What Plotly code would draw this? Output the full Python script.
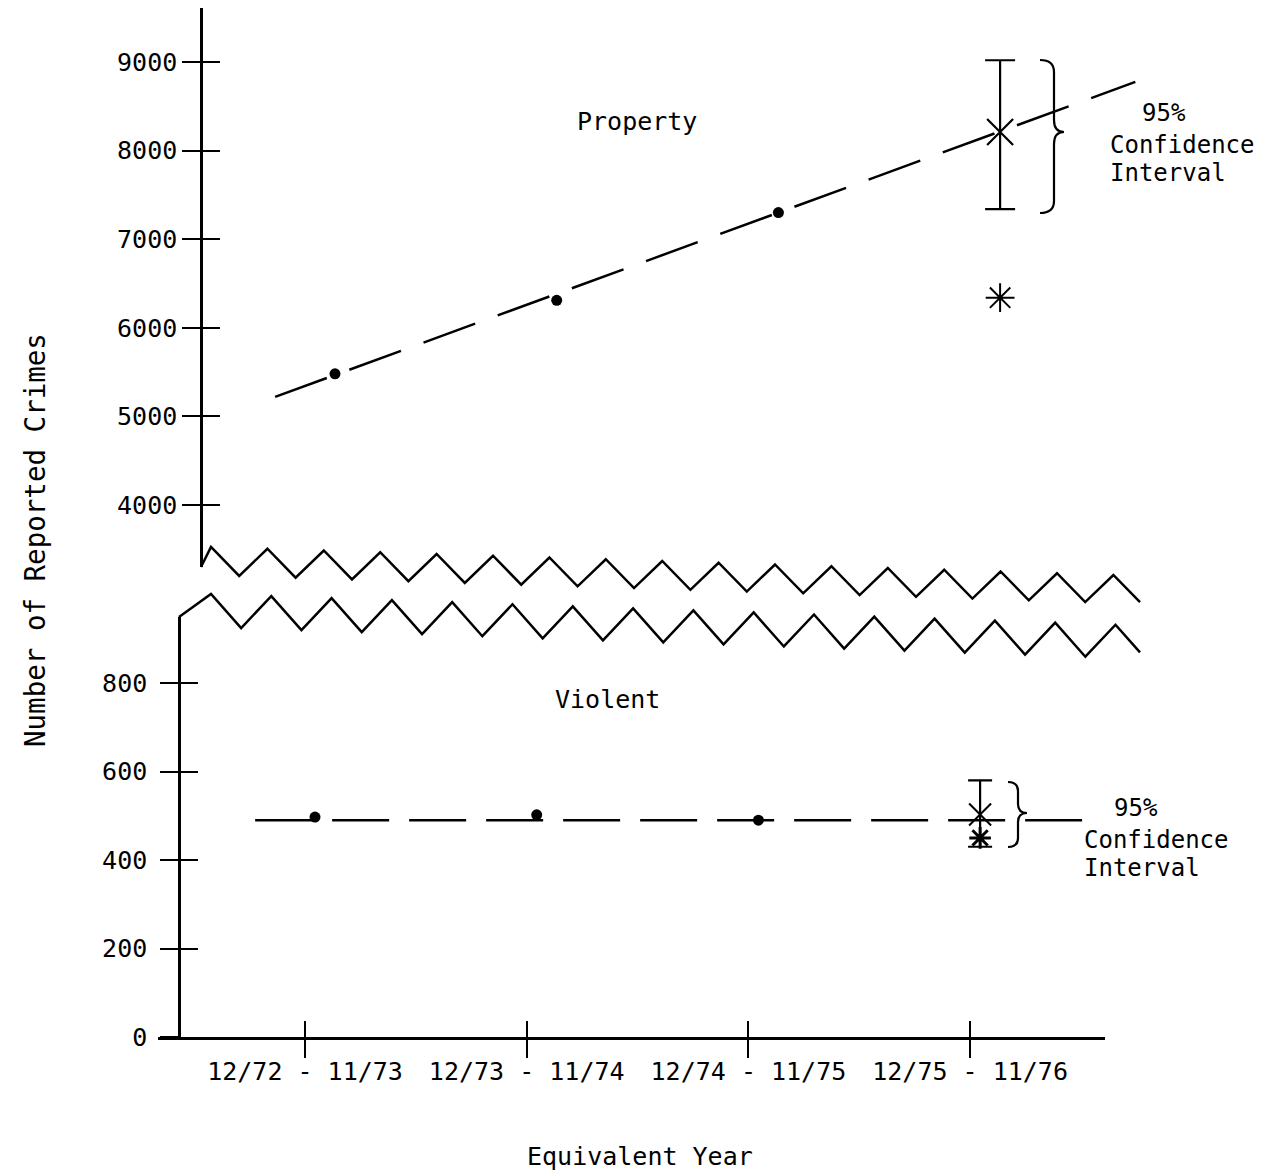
import plotly.graph_objects as go

# ---------------- data ----------------
year_pos = [1, 2, 3, 4]
year_labels = ["12/72 - 11/73", "12/73 - 11/74", "12/74 - 11/75", "12/75 - 11/76"]

# Property crimes (upper panel)
prop_x = [1, 2, 3]
prop_y = [5480, 6310, 7300]
prop_trend_x = [0.73, 4.61]
prop_trend_y = [5220, 8775]
prop_proj_x = [4]
prop_proj_y = [8210]
prop_ci_low = [7340]
prop_ci_high = [9020]
prop_actual_y = [6340]
prop_ticks = [4000, 5000, 6000, 7000, 8000, 9000]

# Violent crimes (lower panel)
viol_x = [1, 2, 3]
viol_y = [497, 502, 490]
viol_trend_x = [0.73, 4.46]
viol_trend_y = [490, 490]
viol_proj_x = [4]
viol_proj_y = [503]
viol_ci_low = [430]
viol_ci_high = [580]
viol_actual_y = [450]
viol_ticks = [0, 200, 400, 600, 800]

# ---------------- geometry helpers (page pixels -> paper) ----------------
OFF = 8                      # default body margin of the html page
PAGE_W, PAGE_H = 1262, 1174
FIG_W, FIG_H = PAGE_W - OFF, PAGE_H - OFF
L, RGT, T, B = 158, 1150, 8, 1037   # plot area in page pixels
W, H = RGT - L, B - T


def fx(x):
    return (x - L) / W


def fy(y):
    return (B - y) / H


FONT = "DejaVu Sans Mono"
INK = "black"
LW = 2.5
FS = 25

fig = go.Figure()

# Property series
fig.add_trace(go.Scatter(x=prop_trend_x, y=prop_trend_y, mode="lines",
                         line=dict(color=INK, width=LW, dash="55px,24px"),
                         xaxis="x2", yaxis="y2", showlegend=False))
fig.add_trace(go.Scatter(x=prop_x, y=prop_y, mode="markers",
                         marker=dict(color=INK, size=11),
                         xaxis="x2", yaxis="y2", showlegend=False))
fig.add_trace(go.Scatter(
    x=prop_proj_x, y=prop_proj_y, mode="markers",
    marker=dict(symbol="x-thin-open", size=26, color=INK,
                line=dict(color=INK, width=2.2)),
    error_y=dict(type="data", symmetric=False,
                 array=[h - p for h, p in zip(prop_ci_high, prop_proj_y)],
                 arrayminus=[p - l for l, p in zip(prop_ci_low, prop_proj_y)],
                 color=INK, thickness=2.2, width=15),
    xaxis="x2", yaxis="y2", showlegend=False, cliponaxis=False))
fig.add_trace(go.Scatter(
    x=prop_proj_x, y=prop_actual_y, mode="markers",
    marker=dict(symbol="asterisk-open", size=24, color=INK,
                line=dict(color=INK, width=2)),
    xaxis="x2", yaxis="y2", showlegend=False))

# Violent series
fig.add_trace(go.Scatter(x=viol_trend_x, y=viol_trend_y, mode="lines",
                         line=dict(color=INK, width=LW, dash="57px,20px"),
                         xaxis="x3", yaxis="y", showlegend=False))
fig.add_trace(go.Scatter(x=viol_x, y=viol_y, mode="markers",
                         marker=dict(color=INK, size=11),
                         xaxis="x3", yaxis="y", showlegend=False))
fig.add_trace(go.Scatter(
    x=viol_proj_x, y=viol_proj_y, mode="markers",
    marker=dict(symbol="x-thin-open", size=22, color=INK,
                line=dict(color=INK, width=2)),
    error_y=dict(type="data", symmetric=False,
                 array=[h - p for h, p in zip(viol_ci_high, viol_proj_y)],
                 arrayminus=[p - l for l, p in zip(viol_ci_low, viol_proj_y)],
                 color=INK, thickness=2.2, width=12),
    xaxis="x3", yaxis="y", showlegend=False, cliponaxis=False))
fig.add_trace(go.Scatter(
    x=viol_proj_x, y=viol_actual_y, mode="markers",
    marker=dict(symbol="asterisk-open", size=18, color=INK,
                line=dict(color=INK, width=3)),
    xaxis="x3", yaxis="y", showlegend=False))

# dummy traces so overlay tick axes get drawn
fig.add_trace(go.Scatter(x=[None], y=[None], xaxis="x4", yaxis="y", showlegend=False))
fig.add_trace(go.Scatter(x=[None], y=[None], xaxis="x", yaxis="y3", showlegend=False))
fig.add_trace(go.Scatter(x=[None], y=[None], xaxis="x2", yaxis="y4", showlegend=False))

tickfont = dict(family=FONT, size=FS, color=INK)

x_rng = [1 - (305 - L) / 221.7, 1 + (1105 - 305) / 221.7]
x_dom = [0, fx(1105)]
x2_rng = [1 - (335 - L) / 221.7, 1 + (RGT - 335) / 221.7]
x3_rng = [1 - (315 - L) / 221.7, 1 + (RGT - 315) / 221.7]

y_rng = [0, (B - 617) / 0.4425]
y_dom = [0, fy(617)]
y2_rng = [4000 - (567 - 505) / 0.0886, 4000 + (505 - T) / 0.0886]
y2_dom = [fy(567), 1]

ylow_pos = fx(179)
yup_pos = fx(201)

fig.update_layout(
    width=FIG_W, height=FIG_H,
    margin=dict(l=L - OFF, r=FIG_W - (RGT - OFF), t=T - OFF, b=FIG_H - (B - OFF)),
    paper_bgcolor="white", plot_bgcolor="rgba(0,0,0,0)",
    font=dict(family=FONT, size=FS, color=INK),
    xaxis=dict(domain=x_dom, range=x_rng, anchor="y", tickmode="array",
               tickvals=year_pos, ticktext=year_labels, ticks="outside",
               ticklen=18, tickwidth=2, tickcolor=INK, showline=True,
               linecolor=INK, linewidth=LW, showgrid=False, zeroline=False,
               tickfont=tickfont, ticklabelstandoff=-8),
    xaxis4=dict(overlaying="x", anchor="y", range=x_rng, tickmode="array",
                tickvals=year_pos, ticks="inside", ticklen=16, tickwidth=2,
                tickcolor=INK, showticklabels=False, showline=False,
                showgrid=False, zeroline=False),
    xaxis2=dict(domain=[0, 1], range=x2_rng, anchor="y2", visible=False),
    xaxis3=dict(domain=[0, 1], range=x3_rng, anchor="y", visible=False),
    yaxis=dict(domain=y_dom, range=y_rng, anchor="free", position=ylow_pos,
               tickmode="array", tickvals=viol_ticks, ticks="outside",
               ticklen=18, tickwidth=2, tickcolor=INK, showline=True,
               linecolor=INK, linewidth=LW, showgrid=False, zeroline=False,
               tickfont=tickfont, ticklabelstandoff=8),
    yaxis3=dict(overlaying="y", anchor="free", position=ylow_pos, range=y_rng,
                tickmode="array", tickvals=viol_ticks[1:], ticks="inside",
                ticklen=18, tickwidth=2, tickcolor=INK, showticklabels=False,
                showline=False, showgrid=False, zeroline=False),
    yaxis2=dict(domain=y2_dom, range=y2_rng, anchor="free", position=yup_pos,
                tickmode="array", tickvals=prop_ticks, ticks="outside",
                ticklen=18, tickwidth=2, tickcolor=INK, showline=True,
                linecolor=INK, linewidth=LW, showgrid=False, zeroline=False,
                tickfont=tickfont, ticklabelstandoff=0),
    yaxis4=dict(overlaying="y2", anchor="free", position=yup_pos, range=y2_rng,
                tickmode="array", tickvals=prop_ticks, ticks="inside",
                ticklen=18, tickwidth=2, tickcolor=INK, showticklabels=False,
                showline=False, showgrid=False, zeroline=False),
)


# ---------------- axis-break zigzags ----------------
def zigzag(x_start, y_start, x_first_peak, y_peak, y_trough, period, drift, x_end):
    half = period / 2
    pts = [(x_start, y_start)]
    x, up = x_first_peak, True
    while x <= x_end:
        pts.append((x, (y_peak if up else y_trough) + drift * (x - x_first_peak)))
        x += half
        up = not up
    # partial last segment toward next vertex
    lx, ly = pts[-1]
    nx, ny = x, (y_peak if up else y_trough) + drift * (x - x_first_peak)
    t = (x_end - lx) / (nx - lx)
    pts.append((x_end, ly + t * (ny - ly)))
    return "M " + " L ".join(f"{fx(a):.5f},{fy(b):.5f}" for a, b in pts)


shapes = []
shapes.append(dict(type="path", xref="paper", yref="paper",
                   path=zigzag(201, 567, 211, 547, 575, 56.4, 0.031, 1140),
                   line=dict(color=INK, width=LW)))
shapes.append(dict(type="path", xref="paper", yref="paper",
                   path=zigzag(179, 617, 211, 594, 627, 60.3, 0.034, 1140),
                   line=dict(color=INK, width=LW)))


# ---------------- braces ----------------
def brace(xl, xs, xt, yt, ym, yb, r):
    P = lambda a, b: f"{fx(a):.5f},{fy(b):.5f}"
    return (f"M {P(xl, yt)} Q {P(xs, yt)} {P(xs, yt + r)} L {P(xs, ym - r)} "
            f"Q {P(xs, ym)} {P(xt, ym)} Q {P(xs, ym)} {P(xs, ym + r)} "
            f"L {P(xs, yb - r)} Q {P(xs, yb)} {P(xl, yb)}")


shapes.append(dict(type="path", xref="paper", yref="paper",
                   path=brace(1040, 1054, 1064, 60, 132, 213, 12),
                   line=dict(color=INK, width=2.2)))
shapes.append(dict(type="path", xref="paper", yref="paper",
                   path=brace(1008, 1018, 1027, 782, 813, 847, 9),
                   line=dict(color=INK, width=2.2)))
fig.update_layout(shapes=shapes)

# ---------------- text ----------------
ann = []


def text(t, x, y, xa="center", size=FS, angle=0):
    ann.append(dict(text=t, x=fx(x), y=fy(y), xref="paper", yref="paper",
                    xanchor=xa, yanchor="middle", showarrow=False,
                    textangle=angle, font=dict(family=FONT, size=size, color=INK)))


text("Property", 637, 121)
text("Violent", 607, 699)
text("95%", 1140, 113, "left", 24)
text("Confidence", 1108, 145, "left", 24)
text("Interval", 1108, 173, "left", 24)
text("95%", 1112, 808, "left", 24)
text("Confidence", 1082, 840, "left", 24)
text("Interval", 1082, 868, "left", 24)
text("Equivalent Year", 640, 1156)
text("Number of Reported Crimes", 35, 540, size=27.5, angle=-90)
fig.update_layout(annotations=ann)

fig.write_html("out.html")
